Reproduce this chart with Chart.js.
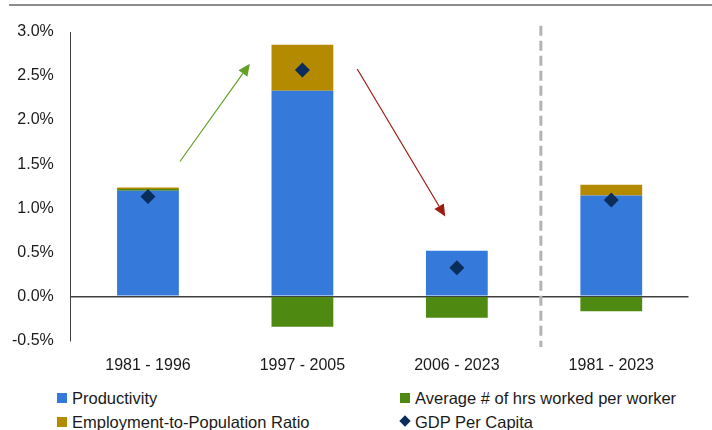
<!DOCTYPE html>
<html>
<head>
<meta charset="utf-8">
<script src="https://cdn.jsdelivr.net/npm/chart.js@4.4.1/dist/chart.umd.min.js"></script>
<style>
    html, body { margin: 0; padding: 0; background: #fff; }
    #wrap { position: relative; width: 712px; height: 430px; overflow: hidden; font-family: "Liberation Sans", Arial, sans-serif; color: #1a1a1a; }
    #topLine { position: absolute; left: 9px; right: 0; top: 4px; height: 2px; background: #8c8c8c; }
    #chartBox { position: absolute; left: 0; top: 0; width: 712px; height: 380px; }
    .lg { position: absolute; font-size: 16.5px; line-height: 20px; white-space: nowrap; }
    .lg .sw { position: absolute; left: 0; top: 5px; width: 10px; height: 10px; }
    .lg .dia { position: absolute; left: 1px; top: 5px; width: 8px; height: 8px; transform: rotate(45deg); }
    .lg span.t { position: absolute; left: 15px; top: 0; }
</style>
</head>
<body>
<div id="wrap">
    <div id="topLine"></div>
    <div id="chartBox"><canvas id="gdpChart" width="712" height="380"></canvas></div>
    <div id="legend"></div>
</div>
<script>
// Данные графика
const periods = ['1981 - 1996', '1997 - 2005', '2006 - 2023', '1981 - 2023'];
const productivity = [1.197, 2.333, 0.518, 1.143];
const hoursPerWorker = [0.022, -0.345, -0.243, -0.170];
const employmentRatio = [0.015, 0.523, 0.0, 0.122];
const gdpPerCapita = [1.132, 2.57, 0.325, 1.094];
const yTicks = [-0.5, 0.0, 0.5, 1.0, 1.5, 2.0, 2.5, 3.0];

// стрелки и разделитель в координатах данных (индекс категории, %)
const arrows = [
    { from: [0.207, 1.53], to: [0.66, 2.64], color: '#64a02a' },
    { from: [1.355, 2.58], to: [1.925, 0.905], color: '#9c1c12' }
];
const divider = { x: 2.544, top: 3.07, bottom: -0.576 };

const colors = {
    productivity: '#3579db',
    hours: '#4e8a12',
    employment: '#b48a00',
    gdp: '#0b2d5b'
};

const overlayPlugin = {
    id: 'overlay',
    afterDatasetsDraw(chart) {
        const { ctx, scales: { x, y } } = chart;
        ctx.save();
        // пунктирная линия
        const dx = x.getPixelForValue(divider.x);
        ctx.strokeStyle = '#b3b3b3';
        ctx.lineWidth = 3;
        ctx.setLineDash([10, 5]);
        ctx.beginPath();
        ctx.moveTo(dx, y.getPixelForValue(divider.top));
        ctx.lineTo(dx, y.getPixelForValue(divider.bottom));
        ctx.stroke();
        ctx.setLineDash([]);

        // стрелки
        arrows.forEach(a => {
            const x1 = x.getPixelForValue(a.from[0]), y1 = y.getPixelForValue(a.from[1]);
            const x2 = x.getPixelForValue(a.to[0]), y2 = y.getPixelForValue(a.to[1]);
            const ang = Math.atan2(y2 - y1, x2 - x1);
            const head = 12, half = 5.5;
            const bx = x2 - head * Math.cos(ang), by = y2 - head * Math.sin(ang);
            ctx.strokeStyle = a.color;
            ctx.fillStyle = a.color;
            ctx.lineWidth = 1.2;
            ctx.beginPath();
            ctx.moveTo(x1, y1);
            ctx.lineTo(bx, by);
            ctx.stroke();
            ctx.beginPath();
            ctx.moveTo(x2, y2);
            ctx.lineTo(bx + half * Math.sin(ang), by - half * Math.cos(ang));
            ctx.lineTo(bx - half * Math.sin(ang), by + half * Math.cos(ang));
            ctx.closePath();
            ctx.fill();
        });
        ctx.restore();
    }
};

function initChart() {
    const ctx = document.getElementById('gdpChart').getContext('2d');
    new Chart(ctx, {
        type: 'bar',
        data: {
            labels: periods,
            datasets: [
                { label: 'Productivity', data: productivity, backgroundColor: colors.productivity, order: 1 },
                { label: 'Average # of hrs worked per worker', data: hoursPerWorker, backgroundColor: colors.hours, order: 1 },
                { label: 'Employment-to-Population Ratio', data: employmentRatio, backgroundColor: colors.employment, order: 1 },
                {
                    type: 'line',
                    label: 'GDP Per Capita',
                    data: gdpPerCapita,
                    stack: 'gdp',
                    showLine: false,
                    pointStyle: 'rectRot',
                    pointRadius: 7.5,
                    pointBackgroundColor: colors.gdp,
                    pointBorderWidth: 0,
                    order: 0
                }
            ]
        },
        options: {
            responsive: false,
            animation: false,
            layout: { padding: { top: 32, right: 23.5, left: 0, bottom: 0 } },
            plugins: {
                legend: { display: false },
                tooltip: { enabled: false }
            },
            datasets: {
                bar: { barPercentage: 0.4, categoryPercentage: 1.0 }
            },
            scales: {
                x: {
                    stacked: true,
                    grid: { display: false, drawTicks: false },
                    border: { display: false },
                    ticks: {
                        color: '#1a1a1a',
                        padding: 16,
                        font: { family: 'Liberation Sans', size: 16 }
                    },
                    afterFit(scale) { scale.height = 39.7; }
                },
                y: {
                    stacked: true,
                    min: -0.5,
                    max: 3.0,
                    afterBuildTicks(scale) { scale.ticks = yTicks.map(v => ({ value: v })); },
                    grid: {
                        drawTicks: false,
                        color: c => c.tick && c.tick.value === 0 ? '#404040' : 'rgba(0,0,0,0)',
                        lineWidth: 1.5
                    },
                    border: { display: true, color: '#404040', width: 1 },
                    ticks: {
                        color: '#1a1a1a',
                        padding: 17,
                        font: { family: 'Liberation Sans', size: 16 },
                        callback: v => v.toFixed(1) + '%'
                    },
                    afterFit(scale) { scale.width = 70.75; }
                }
            }
        },
        plugins: [overlayPlugin]
    });
}

// Легенда в две колонки
function buildLegend() {
    const items = [
        { text: 'Productivity', color: colors.productivity, x: 57, y: 388, diamond: false },
        { text: 'Average # of hrs worked per worker', color: colors.hours, x: 400, y: 388, diamond: false },
        { text: 'Employment-to-Population Ratio', color: colors.employment, x: 57, y: 412, diamond: false },
        { text: 'GDP Per Capita', color: colors.gdp, x: 400, y: 412, diamond: true }
    ];
    const box = document.getElementById('legend');
    items.forEach(it => {
        const d = document.createElement('div');
        d.className = 'lg';
        d.style.left = it.x + 'px';
        d.style.top = it.y + 'px';
        const m = document.createElement('div');
        m.className = it.diamond ? 'dia' : 'sw';
        m.style.background = it.color;
        const t = document.createElement('span');
        t.className = 't';
        t.textContent = it.text;
        d.appendChild(m);
        d.appendChild(t);
        box.appendChild(d);
    });
}

buildLegend();
initChart();
</script>
</body>
</html>
